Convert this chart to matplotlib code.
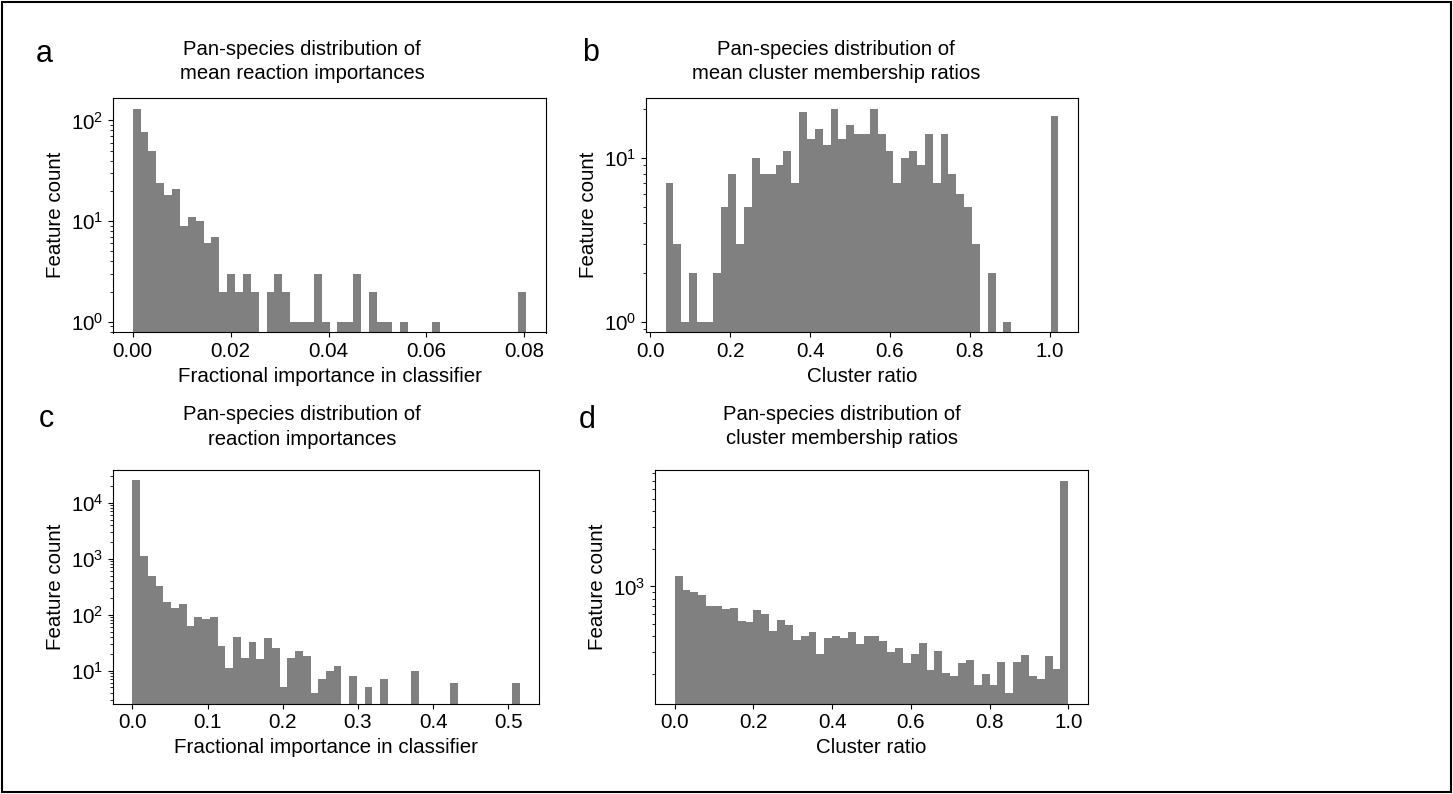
import numpy as np
import matplotlib
matplotlib.use("Agg")
import matplotlib.pyplot as plt
from matplotlib.patches import Rectangle

plt.rcParams['font.family'] = ['Liberation Sans', 'DejaVu Sans']
plt.rcParams['mathtext.fontset'] = 'custom'
plt.rcParams['mathtext.rm'] = 'Liberation Sans'
plt.rcParams['mathtext.it'] = 'Liberation Sans:italic'
plt.rcParams['mathtext.bf'] = 'Liberation Sans:bold'

# ---------------- data ----------------
# (a) mean reaction importances: 50 bins from 0 to 0.0804
a_range = (0.0, 0.0804)
a_counts = [131, 76, 50, 24, 18, 21, 9, 11, 10, 6,
            7, 2, 3, 2, 3, 2, 0, 2, 3, 2,
            1, 1, 1, 3, 1, 0, 1, 1, 3, 0,
            2, 1, 1, 0, 1, 0, 0, 0, 1, 0,
            0, 0, 0, 0, 0, 0, 0, 0, 0, 2]

# (b) mean cluster membership ratios: 50 bins
b_range = (0.038, 1.022)
b_counts = [7, 3, 1, 2, 1, 1, 2, 5, 8, 3,
            5, 10, 8, 8, 9, 11, 7, 19, 13, 15,
            12, 20, 13, 16, 14, 14, 20, 14, 11, 7,
            10, 11, 9, 14, 7, 14, 8, 6, 5, 3,
            0, 2, 0, 1, 0, 0, 0, 0, 0, 18]

# (c) reaction importances: 50 bins from 0 to 0.515
c_range = (0.0, 0.515)
c_counts = [25400, 1117, 490, 325, 168, 133, 155, 64, 92, 83,
            92, 27, 11, 40, 17, 33, 16, 39, 25, 5,
            17, 22, 18, 4, 7, 10, 12, 0, 8, 0,
            5, 0, 7, 0, 0, 0, 10, 0, 0, 0,
            0, 6, 0, 0, 0, 0, 0, 0, 0, 6]

# (d) cluster membership ratios: 50 bins from 0 to 1
d_range = (0.0, 1.0)
d_counts = [1202, 929, 895, 847, 692, 692, 663, 675, 528, 518,
            651, 604, 440, 535, 488, 374, 398, 436, 286, 388,
            405, 388, 429, 348, 398, 398, 366, 297, 323, 244,
            289, 352, 213, 302, 203, 194, 244, 256, 163, 200,
            163, 251, 141, 251, 281, 191, 183, 277, 219, 7000]

n_bins = 50
panel_letters = ['a', 'b', 'c', 'd']
titles = ['Pan-species distribution of\nmean reaction importances',
          'Pan-species distribution of\nmean cluster membership ratios',
          'Pan-species distribution of\nreaction importances',
          'Pan-species distribution of\ncluster membership ratios']
xlabels = ['Fractional importance in classifier', 'Cluster ratio',
           'Fractional importance in classifier', 'Cluster ratio']
ylabel = 'Feature count'

# ---------------- figure ----------------
W, H = 1453, 794
fig = plt.figure(figsize=(W / 100, H / 100), dpi=100)

def px_axes(left, top, right, bottom):
    return fig.add_axes([left / W, 1 - bottom / H, (right - left) / W, (bottom - top) / H])

boxes = [(113, 98, 546, 332.5),
         (646, 98, 1078, 332.5),
         (113, 469.5, 539, 703.5),
         (655, 470, 1088, 703.5)]
letter_pos = [(44, 62), (591, 61), (46, 427), (587.5, 428)]
title_pos = [(302, 61.5), (836, 61.5), (302, 427), (842, 426.5)]
ranges = [a_range, b_range, c_range, d_range]
counts = [a_counts, b_counts, c_counts, d_counts]

FS = 14.8
for i in range(4):
    ax = px_axes(*boxes[i])
    edges = np.linspace(ranges[i][0], ranges[i][1], n_bins + 1)
    ax.hist(edges[:-1], bins=edges, weights=counts[i], color='gray', log=True)
    ax.set_xlabel(xlabels[i], fontsize=FS)
    ax.set_ylabel(ylabel, fontsize=FS)
    ax.tick_params(labelsize=FS)
    tx, ty = title_pos[i]
    fig.text(tx / W, 1 - ty / H, titles[i], fontsize=14.6, ha='center', va='center',
             multialignment='center', linespacing=1.38)
    lx, ly = letter_pos[i]
    fig.text(lx / W, 1 - ly / H, panel_letters[i], fontsize=22, ha='center', va='baseline')

fig.patches.append(Rectangle((0.0015, 0.002), 0.997, 0.996, transform=fig.transFigure,
                             fill=False, edgecolor='black', linewidth=1.5))

fig.savefig('out.png', dpi=100)
